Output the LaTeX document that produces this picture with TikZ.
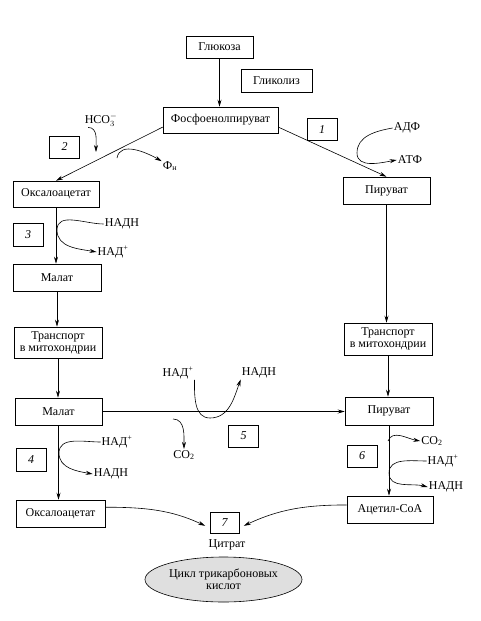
\documentclass[tikz,border=0pt]{standalone}
\usepackage{fontspec}
\setmainfont{Liberation Serif}
\usetikzlibrary{arrows.meta,shapes.geometric}
\tikzset{
  box/.style={draw, line width=0.6pt, minimum width=88pt, minimum height=27pt, inner sep=1pt, align=center, font=\fontsize{12}{12}\selectfont},
  num/.style={draw, line width=0.6pt, minimum width=30pt, minimum height=22pt, inner sep=0pt, font=\fontsize{12}{12}\selectfont\itshape},
  lab/.style={inner sep=1pt, font=\fontsize{12}{12}\selectfont},
  flow/.style={-{Stealth[length=7pt,width=4pt]}, line width=0.6pt},
}
\begin{document}
\begin{tikzpicture}[x=1pt,y=-1pt]
    \useasboundingbox (0,0) rectangle (481,621);
    \node[box, minimum width=67pt, minimum height=22pt] (glu) at (219.5,47) {Глюкоза};
    \node[box, minimum width=71pt, minimum height=23pt] (glyc) at (276.5,80.5) {Гликолиз};
    \node[box, minimum width=115pt, minimum height=26pt] (pep) at (220.5,120) {Фосфоенолпируват};
    \node[box, minimum width=86pt, minimum height=26pt] (oaaA) at (56,194) {Оксалоацетат};
    \node[box, minimum width=87pt] (pyrA) at (386.5,190.5) {Пируват};
    \node[box] (malA) at (57,277.5) {Малат};
    \node[box, minimum height=31pt] (trL) at (58,342.5) {Транспорт\\в митохондрии};
    \node[box, minimum height=32pt] (trR) at (388,339) {Транспорт\\в митохондрии};
    \node[box, minimum width=87pt] (malB) at (58.5,411.5) {Малат};
    \node[box, minimum height=28pt] (pyrB) at (389,411) {Пируват};
    \node[box, minimum width=89pt] (oaaB) at (60.5,513.5) {Оксалоацетат};
    \node[box, minimum width=86pt] (acoa) at (390,509.5) {Ацетил-СоА};

    \node[num] (n1) at (322,129.5) {1};
    \node[num] (n2) at (64.5,147) {2};
    \node[num, minimum height=23pt] (n3) at (28,234.5) {3};
    \node[num, minimum height=23pt] (n4) at (31,459.5) {4};
    \node[num] (n5) at (243.5,436) {5};
    \node[num] (n6) at (362,456) {6};
    \node[num, minimum width=29pt, minimum height=21pt] (n7) at (224.5,522.5) {7};

    \node[lab] (hco) at (101,120) {HCO$_3^-$};
    \node[lab] (fn) at (170,166) {Ф\textsubscript{н}};
    \node[lab] (adp) at (407,128) {АДФ};
    \node[lab] (atp) at (410,160) {АТФ};
    \node[lab] (nadhC) at (122,224) {НАДН};
    \node[lab] (nadC) at (113,252) {НАД\textsuperscript{+}};
    \node[lab] (nadE) at (178,373) {НАД\textsuperscript{+}};
    \node[lab] (nadhE) at (259,373) {НАДН};
    \node[lab] (coE) at (184,455) {CO\textsubscript{2}};
    \node[lab] (nadD) at (117,442) {НАД\textsuperscript{+}};
    \node[lab] (nadhD) at (111,474) {НАДН};
    \node[lab] (coF) at (432,441) {CO\textsubscript{2}};
    \node[lab] (nadF) at (443,461) {НАД\textsuperscript{+}};
    \node[lab] (nadhF) at (446,487) {НАДН};
    \node[lab] (cit) at (227,545) {Цитрат};
    \node[draw, ellipse, fill=gray!25, line width=0.6pt, minimum width=157pt, minimum height=45pt, inner sep=0pt, align=center, font=\fontsize{12}{12}\selectfont] (tca) at (223.5,579.5) {Цикл трикарбоновых\\кислот};

    \coordinate (h2) at (96,152);
    \coordinate (f2) at (117,158);
    \coordinate (p1) at (357,153);
    \coordinate (p3) at (57,230);
    \coordinate (p4) at (59,453);
    \coordinate (p5) at (210,418);
    \coordinate (q5) at (173,419);
    \coordinate (q6) at (388,441);
    \coordinate (p6) at (389,473);

    \draw[flow] (glu.south) -- (glu.south |- pep.north);
    \draw[flow] (pep.187) -- (oaaA.north);
    \draw[flow] (pep.-7) -- (pyrA.north);
    \draw[flow] (oaaA.south) -- (oaaA.south |- malA.north);
    \draw[flow] (malA.south) -- (malA.south |- trL.north);
    \draw[flow] (trL.south) -- (trL.south |- malB.north);
    \draw[flow] (malB.south) -- (malB.south |- oaaB.north);
    \draw[flow] (pyrA.south) -- (pyrA.south |- trR.north);
    \draw[flow] (trR.south) -- (trR.south |- pyrB.north);
    \draw[flow] (pyrB.south) -- (pyrB.south |- acoa.north);
    \draw[flow] (malB.east) -- (malB.east -| pyrB.west);
    \draw[flow, shorten >=5pt] (oaaB.8) to[out=0,in=155] (n7.200);
    \draw[flow, shorten >=5pt] (acoa.174) to[out=180,in=25] (n7.-20);

    \draw[flow] (hco.-150) to[out=0,in=90] (h2);
    \draw[flow] (f2) to[out=80,in=150] (fn.150);
    \draw[flow] (adp.west) to[out=190,in=90] (p1) to[out=-90,in=190] (atp.west);
    \draw[flow] (nadhC.west) to[out=180,in=90] (p3) to[out=-90,in=170] (nadC.west);
    \draw[flow] (nadD.west) to[out=180,in=90] (p4) to[out=-90,in=170] (nadhD.west);
    \draw[flow] (nadE.south east) to[out=-90,in=180] (p5) to[out=0,in=-110] (nadhE.south west);
    \draw[flow] (q5) to[out=0,in=90] (coE.north);
    \draw[flow] (q6) to[out=70,in=170] (coF.west);
    \draw[flow] (nadF.west) to[out=180,in=90] (p6) to[out=-90,in=165] (nadhF.west);
\end{tikzpicture}
\end{document}
